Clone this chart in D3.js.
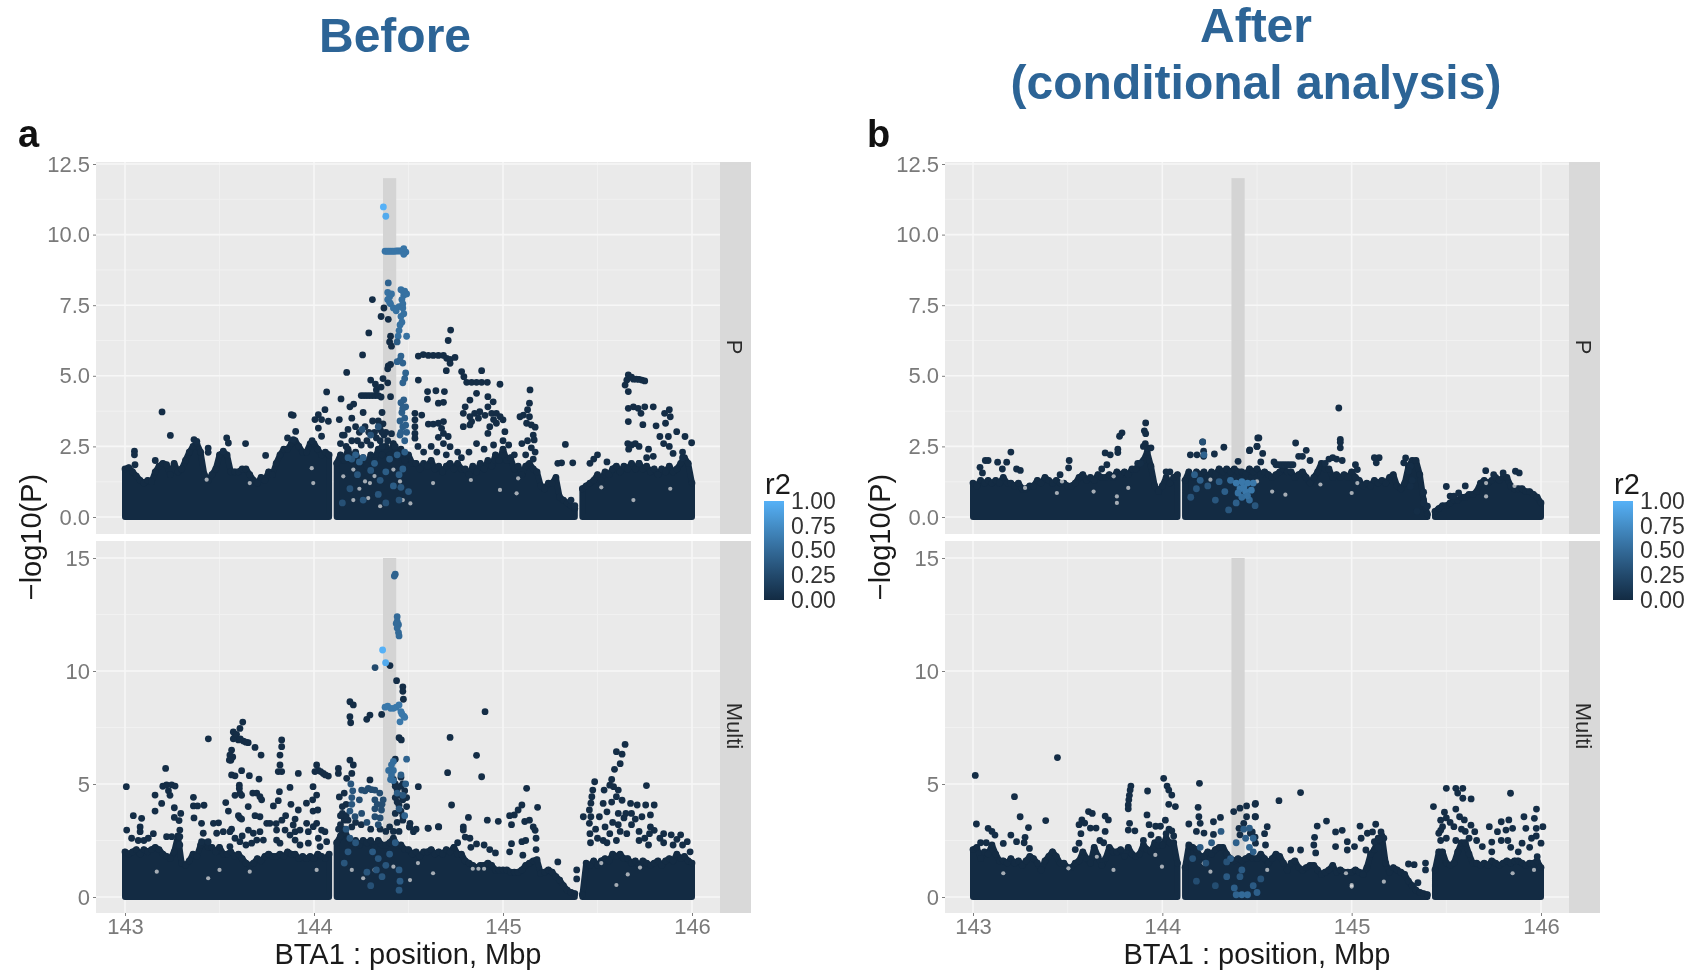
<!DOCTYPE html>
<html><head><meta charset="utf-8">
<script src="https://cdn.jsdelivr.net/npm/d3@7"></script>
<style>
html,body{margin:0;padding:0;background:#fff;overflow:hidden}
svg{display:block;font-family:"Liberation Sans",Arial,sans-serif;filter:blur(0.65px)}
</style></head><body>
<svg id="c" width="1694" height="972"></svg>
<script>
// x position of the first envelope value and spacing between values, Mbp
const binStart = 143, binStep = 0.02;
const xTicks = [143,144,145,146];
const xMinor = [143.5,144.5,145.5];
const yTicksTop = [0,2.5,5,7.5,10,12.5];
const yMinorTop = [1.25,3.75,6.25,8.75,11.25];
const yTicksBottom = [0,5,10,15];
const yMinorBottom = [2.5,7.5,12.5];
const legendTicks = [0,0.25,0.5,0.75,1];
const regionBand = [144.365,144.435];

// Upper edge of the solid mass of SNPs in each facet
const aTopEnvelope = [
1.7,1.75,1.6,1.45,1.3,1.2,1.3,1.25,1.6,1.8,
1.9,1.85,1.5,1.9,1.6,1.7,2.0,2.3,2.5,2.6,
2.3,1.5,1.3,1.5,1.7,2.2,2.3,2.2,1.6,1.6,
1.6,1.7,1.7,1.5,1.3,1.2,1.4,1.3,1.6,1.5,
1.9,2.2,2.4,2.4,2.6,2.7,2.5,2.3,2.3,2.6,
2.6,2.4,2.2,2.3,2.2,0,1.9,2.2,2.0,2.4,
2.0,2.3,1.9,2.1,1.8,2.2,2.0,2.4,2.2,2.5,
2.2,2.6,2.1,2.4,2.0,2.2,1.9,1.9,1.7,1.9,
1.8,2.0,1.7,1.8,1.6,1.8,1.9,1.7,1.9,1.7,
1.7,1.5,1.8,1.6,1.9,1.7,2.0,1.8,2.2,2.0,
2.4,2.0,2.1,1.7,1.8,1.5,1.8,1.9,1.7,1.6,
1.1,1.0,1.2,1.2,1.4,0.7,0.6,0.5,0.4,0.3,
0,1.0,1.1,1.2,1.3,1.5,1.3,1.6,1.5,1.7,
1.8,1.6,1.8,1.7,1.9,1.7,1.9,1.7,1.8,1.6,
1.7,1.5,1.7,1.6,1.8,1.6,1.7,1.9,2.1,1.9,
1.2];
const aBottomEnvelope = [
2.0,1.9,2.0,2.1,1.9,2.1,2.0,2.1,2.2,2.1,
1.9,1.8,1.7,2.0,2.7,1.5,1.4,1.6,1.9,1.8,
2.3,2.4,2.2,2.2,2.0,2.2,1.9,1.9,2.0,1.8,
1.9,1.7,1.5,1.4,1.5,1.7,1.6,1.8,1.9,1.8,
1.8,1.9,1.8,2.0,1.9,1.9,1.7,1.8,1.7,1.8,
1.7,1.9,1.8,1.7,1.9,0,2.4,2.7,3.0,2.6,
2.4,2.5,2.3,2.5,2.4,2.5,2.2,2.5,2.3,2.3,
2.4,2.6,2.3,2.3,2.1,2.1,1.9,2.0,1.8,2.0,
2.0,2.1,1.9,2.0,1.9,2.1,2.0,2.2,1.9,1.9,
1.6,1.5,1.4,1.3,1.4,1.4,1.5,1.4,1.2,1.2,
1.2,1.2,1.1,1.1,1.1,1.2,1.4,1.5,1.6,1.65,
1.05,1.1,1.2,1.1,0.9,0.75,0.5,0.3,0.2,0.15,
0,0.1,1.5,1.4,1.6,1.4,1.6,1.7,1.6,1.9,
1.8,1.9,1.7,1.7,1.5,1.6,1.4,1.6,1.5,1.4,
1.5,1.6,1.4,1.6,1.7,1.6,1.9,1.7,1.8,1.6,
1.5];
const bTopEnvelope = [
1.2,1.1,1.3,1.2,1.3,1.2,1.3,1.2,1.4,1.2,
1.2,1.1,1.2,1.0,1.0,1.1,1.1,1.3,1.2,1.4,
1.3,1.2,1.3,1.2,1.2,1.1,1.1,1.2,1.4,1.5,
1.3,1.4,1.3,1.5,1.4,1.4,1.5,1.4,1.6,1.5,
1.6,1.5,1.7,1.7,1.9,2.0,2.3,1.8,1.1,0.9,
1.1,1.4,1.2,1.4,1.5,0,1.3,1.6,1.4,1.6,
1.5,1.6,1.4,1.6,1.5,1.7,1.6,1.7,1.6,1.7,
1.6,1.6,1.5,1.7,1.6,1.7,1.5,1.6,1.5,1.4,
1.5,1.6,1.7,1.6,1.6,1.4,1.5,1.6,1.4,1.2,
1.4,1.6,1.9,1.7,1.7,1.4,1.5,1.4,1.5,1.4,
1.6,1.4,1.3,1.1,1.2,1.1,1.3,1.2,1.3,1.2,
1.4,1.5,1.1,1.0,1.2,1.8,2.0,2.0,1.5,0.6,
0.1,0,0.2,0.3,0.4,0.4,0.5,0.6,0.6,0.7,
0.7,0.8,0.8,0.9,1.2,1.3,1.2,1.3,1.4,1.3,
1.4,1.4,1.1,1.0,1.0,1.0,0.9,0.9,0.8,0.7,
0.5];
const bBottomEnvelope = [
2.1,2.2,1.7,2.0,1.9,2.3,1.9,1.6,1.6,1.5,
1.7,1.5,1.6,1.4,1.6,1.8,1.7,1.5,1.2,1.6,
1.8,2.0,1.8,1.5,1.5,1.3,1.3,1.5,1.6,2.0,
1.7,1.5,2.2,1.8,1.4,1.7,2.2,2.0,2.0,2.1,
1.8,2.2,1.9,1.8,1.9,2.3,2.1,2.0,2.4,2.3,
2.3,2.6,2.4,2.4,1.5,0,1.3,2.3,2.2,2.1,
1.8,1.8,2.0,1.9,2.1,2.2,2.2,1.9,1.7,1.6,
1.7,1.6,1.7,1.8,1.7,1.7,1.9,1.7,1.5,1.7,
1.9,1.8,1.5,1.2,1.5,1.6,1.3,1.2,1.3,1.4,
1.4,1.2,1.0,1.1,1.2,1.4,1.1,1.2,1.1,1.1,
1.1,1.2,1.1,1.0,1.3,1.9,2.1,2.6,2.7,1.5,
1.1,1.3,1.2,1.1,1.0,0.7,0.5,0.3,0.2,0.15,
0.1,0,1.2,2.0,2.0,1.5,1.4,1.5,2.0,2.4,
2.4,1.9,1.5,1.5,1.4,1.5,1.4,1.6,1.5,1.4,
1.5,1.6,1.5,1.6,1.6,1.5,1.4,1.5,1.5,1.6,
1.3];

// Individually visible SNPs: position Mbp, -log10(P)
const aTopDark = [
[143.196,3.72],[143.24,2.89],[143.05,2.33],[143.05,2.2],[143.053,1.85],[143.16,2.0],[143.365,2.74],[143.38,2.68],[143.44,2.44],[143.44,2.29],[143.538,2.8],[143.547,2.62],[143.52,2.33],[143.638,2.6],[143.744,2.18],[143.86,2.8],[143.88,3.62],[143.89,3.6],[143.903,3.03],[143.89,2.74],[143.99,2.7],[144.005,3.45],[144.023,3.62],[144.058,3.8],[144.067,4.43],[144.04,3.45],[144.076,3.39],[144.023,3.15],[144.04,2.86],[144.134,3.45],[144.143,4.18],[144.173,5.12],[144.257,5.74],[144.29,6.52],[144.309,7.7],[144.355,7.1],[144.37,7.4],[144.393,7.0],
[144.14,2.6],[144.16,2.9],[144.18,3.1],[144.19,3.9],[144.2,3.5],[144.21,4.0],[144.22,3.2],[144.24,3.0],[144.26,3.7],[144.27,3.2],[144.29,3.0],[144.31,3.4],[144.32,3.0],[144.34,3.4],[144.35,3.1],[144.36,3.7],[144.365,3.3],[144.37,2.9],[144.38,3.0],[144.35,2.7],
[144.15,2.9],[144.17,2.5],[144.2,2.7],[144.23,2.7],[144.25,2.55],[144.28,2.7],[144.3,2.55],[144.33,2.8],[144.36,3.0],[144.36,2.5],[144.39,2.7],[144.41,2.95],[144.43,2.5],
[144.25,4.3],[144.265,4.3],[144.28,4.3],[144.295,4.3],[144.31,4.3],[144.325,4.3],[144.34,4.3],[144.355,4.25],[144.3,4.85],[144.325,4.7],[144.33,4.5],[144.365,4.9],[144.355,4.6],[144.405,4.26],[144.39,4.75],[144.405,5.4],[144.393,5.35],[144.39,5.25],[144.41,6.05],[144.4,6.2],[144.405,6.4],
[144.552,5.7],[144.578,5.75],[144.605,5.72],[144.631,5.72],[144.658,5.72],[144.685,5.72],[144.702,5.62],[144.72,5.58],[144.746,5.65],[144.72,5.44],[144.70,5.18],[144.71,6.25],[144.723,6.62],[144.552,4.85],[144.781,5.15],[144.793,4.97],[144.887,5.18],[144.808,4.77],[144.834,4.77],[144.86,4.77],[144.887,4.77],[144.917,4.77],[144.984,4.7],[145.143,4.5],
[144.601,4.44],[144.645,4.47],[144.69,4.44],[144.60,4.17],[144.658,4.03],[144.685,4.06],[144.534,3.67],[144.57,3.61],[144.534,3.44],[144.534,3.2],[144.534,2.96],[144.534,2.79],
[144.605,3.29],[144.631,3.29],[144.658,3.32],[144.685,3.38],[144.675,3.14],[144.685,2.96],[144.658,2.82],[144.71,2.85],[144.685,2.6],[144.72,2.49],[144.55,2.5],[144.58,2.3],[144.62,2.5],[144.65,2.3],[144.7,2.2],[144.76,2.3],[144.78,2.1],
[144.86,4.38],[144.825,4.14],[144.80,3.9],[144.79,3.67],[144.825,3.55],[144.85,3.67],[144.877,3.73],[144.92,4.26],[144.948,4.08],[144.92,3.9],[144.94,3.67],[144.965,3.67],[144.985,3.55],[145.0,3.44],[144.965,3.32],[144.93,3.2],[144.92,2.96],[145.01,3.02],[144.79,3.2],[144.825,3.26],[144.834,3.38],[144.87,3.5],[144.905,3.6],[144.95,3.45],
[145.14,4.03],[145.13,3.8],[145.108,3.61],[145.14,3.55],[145.125,3.32],[145.15,3.26],[145.17,3.18],[145.16,2.9],[145.165,2.73],[145.09,3.55],[145.13,2.7],[145.1,2.6],[145.15,2.45],[145.17,2.3],[144.9,2.4],[144.86,2.6],[144.82,2.3],[144.95,2.55],[145.0,2.7],[145.03,2.55],[145.06,2.2],[145.12,2.2],[145.16,2.05],
[145.33,2.57],[145.29,1.9],[145.31,1.92],[145.369,1.92],[145.36,0.6],[145.38,0.4],
[145.663,5.03],[145.655,4.85],[145.646,4.67],[145.663,4.44],[145.68,4.95],[145.69,4.88],[145.705,4.88],[145.72,4.87],[145.735,4.85],[145.75,4.82],
[145.663,3.85],[145.69,3.9],[145.715,3.85],[145.73,3.67],[145.75,3.9],[145.795,3.9],[145.855,3.67],[145.88,3.8],[145.885,3.55],[145.86,3.32],[145.663,3.38],[145.74,3.27],[145.81,3.23],[145.919,3.02],[145.963,2.85],[145.998,2.63],[145.83,2.85],[145.875,2.85],[145.85,2.6],[145.88,2.5],[145.9,2.25],[145.66,2.6],[145.68,2.55],[145.7,2.6],[145.72,2.5],[145.665,2.4],[145.77,2.4],[145.795,2.15],[145.76,2.1],[145.72,1.9],[145.5,2.2],[145.55,1.95],[145.46,1.9],[145.48,2.05],[145.95,2.3],[145.95,2.1]
];
const aTopTinted = [
[144.367,10.98,1],[144.38,10.65,0.95],
[144.376,9.41,0.58],[144.386,9.41,0.58],[144.396,9.41,0.58],[144.406,9.41,0.58],[144.416,9.41,0.58],[144.426,9.41,0.58],[144.436,9.42,0.58],[144.446,9.42,0.58],[144.456,9.42,0.58],[144.466,9.42,0.58],[144.476,9.42,0.58],[144.486,9.38,0.58],[144.475,9.5,0.58],[144.475,9.3,0.58],
[144.393,8.29,0.45],[144.39,7.95,0.55],[144.4,7.8,0.55],[144.39,7.7,0.55],[144.405,7.55,0.55],[144.42,7.4,0.55],[144.435,7.3,0.55],[144.45,7.45,0.55],[144.475,7.85,0.55],[144.48,8.0,0.55],[144.49,7.9,0.55],[144.46,8.05,0.55],[144.465,7.7,0.55],[144.47,7.4,0.55],[144.46,7.1,0.55],[144.465,6.9,0.55],[144.45,6.6,0.55],[144.445,6.4,0.55],[144.49,6.4,0.55],[144.44,6.2,0.4],
[144.4,7.6,0.55],[144.41,7.9,0.55],[144.47,7.55,0.55],[144.475,7.2,0.55],[144.455,6.8,0.55],[144.47,8.0,0.55],
[144.46,5.7,0.45],[144.44,5.5,0.45],[144.47,5.45,0.45],[144.455,5.55,0.45],[144.485,5.1,0.45],[144.48,4.9,0.45],[144.47,4.75,0.45],[144.475,4.15,0.42],[144.46,4.05,0.42],[144.485,3.9,0.42],[144.465,3.7,0.42],[144.48,3.5,0.42],[144.47,3.2,0.42],[144.49,3.0,0.42],[144.455,2.9,0.42],[144.48,2.7,0.42],[144.47,3.85,0.42],[144.455,3.4,0.42],[144.485,3.25,0.42],[144.46,3.0,0.42],
[144.34,3.2,0.32],[144.3,2.9,0.32],[144.255,3.1,0.32],[144.22,2.2,0.42],[144.2,2.05,0.35],[144.18,2.1,0.4],[144.26,2.1,0.4],[144.32,1.9,0.4],[144.38,1.6,0.4],[144.44,2.2,0.4],[144.47,1.7,0.4],[144.42,1.1,0.4],[144.34,0.8,0.35],[144.26,0.6,0.35],[144.15,0.5,0.3],[144.5,0.9,0.35],[144.23,1.5,0.35],[144.45,0.6,0.3],[144.45,1.5,0.4],[144.48,2.3,0.4],[144.24,1.95,0.4],[144.3,1.65,0.35],[144.4,2.05,0.35],[144.35,1.3,0.35],[144.19,1.0,0.3],[144.46,1.05,0.35],[144.38,0.5,0.3]
];
const aBottomDark = [
[143.007,4.88],[143.009,2.96],[143.044,3.6],[143.088,3.48],[143.08,3.1],[143.159,4.51],[143.215,5.69],[143.194,4.14],[143.159,3.8],[143.2,4.9],[143.22,4.96],[143.247,4.96],[143.265,4.91],[143.23,4.7],[143.238,4.5],[143.261,3.95],[143.261,3.52],[143.295,3.7],[143.286,3.38],[143.362,4.41],[143.362,4.03],[143.384,4.03],[143.418,4.06],[143.365,3.5],[143.405,3.26],[143.441,7.0],[143.468,3.26],[143.495,3.28],
[143.035,2.6],[143.07,2.5],[143.1,2.5],[143.123,2.6],[143.15,2.8],[143.08,2.89],[143.22,2.67],[143.247,2.67],[143.29,2.96],[143.29,2.67],[143.29,2.3],[143.414,2.82],[143.405,2.45],[143.44,2.45],[143.485,2.82],[143.52,2.89],[143.555,2.89],[143.582,2.6],[143.608,2.45],[143.555,2.23],
[143.653,2.96],[143.679,2.82],[143.714,2.89],[143.697,2.52],[143.75,3.26],[143.767,3.26],[143.67,2.38],[143.732,2.52],[143.802,2.52],[143.82,2.38],[143.847,2.96],[143.873,2.74],[143.9,2.89],[143.926,2.96],[143.9,2.52],[143.926,2.3],[143.961,3.26],[143.97,2.89],[143.97,2.38],[144.014,3.26],[144.04,2.96],[144.023,2.6],[144.058,2.89],[144.067,2.45],[144.032,2.23],[143.89,3.19],[143.996,3.11],[143.802,2.96],[143.8,3.25],[143.83,3.4],[143.85,3.6],[143.9,3.45],[143.62,2.7],[143.64,2.3],
[144.526,2.89],[144.605,3.04],[144.658,3.11],[144.508,3.26],
[143.623,7.74],[143.608,7.46],[143.573,7.3],[143.582,7.1],[143.6,6.95],[143.626,6.9],[143.652,6.83],[143.573,7.0],[143.59,7.2],[143.61,7.0],[143.64,6.85],[143.688,6.62],[143.72,6.28],[143.564,6.5],[143.555,6.28],[143.57,6.2],[143.56,6.05],[143.552,6.06],[143.564,5.4],[143.582,5.36],[143.617,5.59],[143.658,5.37],[143.709,5.22],[143.605,4.95],[143.605,4.8],[143.608,4.6],[143.582,4.5],[143.617,4.5],[143.676,4.6],[143.697,4.6],[143.714,4.44],[143.723,4.3],[143.533,4.18],[143.547,3.8],[143.652,4.0],[143.564,3.0],[143.6,3.6],[143.608,3.5],[143.617,3.45],[143.688,3.6],[143.714,3.55],
[143.829,6.95],[143.829,6.65],[143.82,6.28],[143.82,5.84],[143.811,5.55],[143.829,5.55],[143.817,4.66],[143.811,4.26],[143.785,4.03],[143.873,4.85],[143.878,4.1],[143.917,5.47],[143.917,3.85],
[144.014,5.84],[144.005,5.55],[144.049,5.47],[144.076,5.35],[144.023,5.6],[144.06,5.4],[144.035,5.55],[143.995,4.88],[144.014,4.51],[143.993,4.3],[143.96,4.15],[143.995,3.8],[144.02,3.85],
[144.129,5.69],[144.129,5.47],[144.134,4.43],[144.19,6.06],[144.208,5.84],[144.173,5.25],[144.2,5.47],[144.19,8.64],[144.208,8.5],[144.19,7.98],[144.194,7.71],[144.279,7.86],[144.296,8.05],[144.358,8.08],[144.402,10.24],[144.437,9.57],[144.47,9.3],[144.47,9.1],[144.473,8.75],[144.45,7.05],[144.462,6.95],[144.43,6.1],[144.296,5.18],[144.552,4.88],
[144.72,7.06],[144.707,5.5],[144.728,4.07],[144.905,8.2],[144.86,6.27],[144.887,5.32],
[144.42,5.2],[144.46,5.3],[144.43,5.0],[144.47,5.0],[144.44,4.75],[144.48,4.7],[144.43,4.4],[144.47,4.3],[144.45,4.05],[144.49,4.0],[144.43,3.7],[144.47,3.6],[144.44,3.3],[144.4,3.1],[144.42,2.9],[144.16,4.6],[144.17,4.1],[144.15,3.7],[144.18,3.4],[144.14,3.2],[144.2,3.1],[144.45,2.9],[144.505,3.1],[144.54,3.0],
[144.45,4.5],[144.46,4.9],[144.44,4.2],[144.46,3.8],[144.49,4.4],[144.43,4.9],[144.47,3.4],[144.15,4.0],[144.16,3.4],[144.17,3.6],[144.14,3.6],[144.13,3.0],[144.22,3.3],[144.25,3.2],[144.3,3.0],[144.35,3.0],[144.38,2.9],
[144.506,3.1],[144.603,3.05],[144.66,3.1],[144.79,3.1],[144.817,3.52],[144.79,2.96],[144.8,2.65],[144.825,2.6],[144.917,3.4],[144.975,3.35],[144.76,2.4],[144.83,2.2],[144.86,2.35],[144.9,2.3],[144.93,2.1],[144.96,1.95],
[145.125,4.81],[145.183,3.97],[145.1,4.07],[145.08,3.85],[145.06,3.63],[145.035,3.6],[145.045,3.2],[145.115,3.34],[145.14,3.4],[145.16,3.1],[145.17,2.95],[145.1,2.45],[145.12,2.5],[145.045,2.36],[145.035,2.0],[145.175,2.6],[145.175,2.1],[145.105,1.85],[145.29,1.55],[145.39,1.2],[145.39,0.8],[145.425,3.55],
[145.646,6.75],[145.6,6.43],[145.63,6.32],[145.62,5.9],[145.59,5.65],[145.575,5.2],[145.565,4.95],[145.485,5.1],[145.475,4.73],[145.47,4.44],[145.465,4.15],[145.457,3.85],[145.465,3.55],[145.457,3.26],[145.46,2.8],[145.463,2.4],[145.535,4.73],[145.585,4.88],[145.61,4.73],[145.6,4.44],[145.53,4.14],[145.575,4.2],[145.63,4.28],[145.675,4.14],[145.71,4.07],[145.755,4.07],[145.8,4.07],[145.759,4.93],[145.55,3.77],[145.61,3.7],[145.68,3.7],[145.735,3.55],[145.78,3.63],[145.54,3.1],[145.61,3.2],[145.68,3.2],[145.8,2.95],[145.85,2.8],[145.94,2.75],[145.89,2.75],[145.72,2.5],[145.775,2.8],[145.975,2.45],[145.565,2.8],[145.655,2.8],[145.83,2.6],[145.51,3.55],
[145.49,3.0],[145.5,2.6],[145.53,2.5],[145.55,2.4],[145.58,3.3],[145.6,2.5],[145.62,2.9],[145.64,3.5],[145.65,3.7],[145.7,3.45],[145.72,2.9],[145.75,2.6],[145.77,2.3],[145.85,2.4],[145.9,2.3],[145.95,2.3],[145.99,2.0],[145.92,2.55],[145.78,3.1]
];
const aBottomTinted = [
[144.363,10.93,1],[144.379,10.37,0.95],[144.323,10.15,0.25],
[144.43,14.28,0.45],[144.425,14.2,0.45],[144.44,12.4,0.5],[144.44,12.2,0.5],[144.447,12.05,0.5],[144.44,11.9,0.5],[144.447,11.7,0.5],[144.45,11.55,0.5],[144.435,12.1,0.5],
[144.376,8.4,0.6],[144.39,8.45,0.6],[144.405,8.35,0.6],[144.42,8.35,0.6],[144.435,8.4,0.6],[144.45,8.5,0.6],[144.46,8.2,0.6],[144.475,8.0,0.6],[144.455,7.75,0.6],[144.48,7.95,0.6],[144.465,8.1,0.6],
[144.42,6.0,0.52],[144.41,5.85,0.52],[144.42,5.6,0.52],[144.41,5.4,0.52],[144.395,5.6,0.52],[144.42,5.15,0.52],[144.405,5.2,0.52],[144.49,6.1,0.45],[144.46,5.4,0.4],[144.485,5.0,0.4],[144.44,4.6,0.4],[144.48,3.6,0.45],[144.47,4.5,0.35],[144.45,3.9,0.35],
[144.252,4.73,0.28],[144.287,4.8,0.28],[144.322,4.73,0.28],[144.348,4.6,0.28],[144.366,4.3,0.28],[144.357,3.85,0.28],[144.322,3.55,0.28],[144.322,4.3,0.28],[144.322,3.9,0.28],[144.252,3.7,0.28],[144.217,3.55,0.28],[144.28,3.3,0.28],[144.34,3.2,0.28],[144.27,4.7,0.28],[144.305,4.75,0.28],[144.335,4.1,0.28],[144.36,4.1,0.28],[144.24,4.3,0.28],[144.35,3.5,0.28],
[144.195,5.0,0.35],[144.205,4.7,0.35],[144.2,4.4,0.35],[144.2,4.1,0.35],[144.19,3.8,0.35],[144.17,3.0,0.35],[144.19,2.6,0.35],[144.22,2.4,0.35],[144.18,2.0,0.35],[144.16,1.5,0.35],[144.31,2.0,0.38],[144.33,1.2,0.35],[144.36,0.9,0.35],[144.28,1.1,0.35],[144.4,1.9,0.35],[144.43,2.4,0.38],[144.45,1.2,0.38],[144.455,0.7,0.38],[144.3,0.5,0.3],[144.34,1.7,0.35],[144.38,1.4,0.35],[144.45,0.3,0.35]
];
const bTopDark = [
[143.912,3.33],[143.905,3.05],[143.912,2.95],[143.787,2.98],[143.774,2.86],[143.765,2.4],[143.765,2.28],[143.698,2.27],[143.725,2.2],[143.707,1.85],[143.91,2.6],[143.92,2.45],[143.94,2.45],[143.9,2.5],[143.87,1.9],[143.885,1.9],
[143.2,2.3],[143.065,2.0],[143.08,2.0],[143.13,1.94],[143.178,1.94],[143.037,1.76],[143.05,1.56],[143.155,1.7],[143.23,1.7],[143.25,1.65],[143.508,2.0],[143.505,1.74],[143.46,1.5],[143.68,1.7],[144.02,1.6],[144.04,1.6],
[144.148,2.2],[144.183,2.2],[144.213,2.66],[144.218,2.33],[144.218,2.15],[144.275,2.23],[144.325,2.47],[144.4,1.97],[144.462,2.38],[144.504,2.8],[144.5,2.5],
[144.51,2.8],[144.5,2.5],[144.46,2.35],[144.53,2.25],[144.52,1.95],[144.59,1.95],[144.6,1.85],[144.615,1.85],[144.63,1.85],[144.645,1.85],[144.66,1.85],[144.675,1.85],[144.69,1.85],[144.704,2.62],[144.76,2.36],[144.72,2.15],[144.74,2.15],[144.78,2.0],
[144.932,3.86],[144.94,2.75],[144.94,2.65],[144.94,2.45],[144.92,2.05],[144.88,2.05],[144.86,1.9],[144.95,2.0],[144.9,2.1],
[145.145,2.1],[145.12,2.1],[145.13,1.92],[145.02,1.85],[145.03,1.68],[145.285,2.09],[145.275,1.92],[145.31,1.8],[145.3,1.63],[145.32,1.3],[145.31,1.08],[145.38,0.88],[145.38,0.5],[145.4,0.38],[145.345,0.2],
[145.5,1.08],[145.6,1.1],[145.52,0.74],[145.54,0.74],[145.565,0.85],[145.708,1.64],[145.75,1.5],[145.8,1.56],[145.865,1.62],[145.885,1.56]
];
const bTopTinted = [
[144.213,2.66,0.3],[144.22,2.2,0.45],[144.17,1.5,0.42],[144.2,1.3,0.42],[144.36,1.3,0.5],[144.39,1.2,0.6],[144.42,1.25,0.6],[144.45,1.2,0.6],[144.48,1.2,0.6],[144.41,1.0,0.6],[144.44,0.9,0.6],[144.47,0.95,0.6],[144.42,0.7,0.52],[144.46,0.6,0.5],[144.39,0.5,0.42],[144.33,0.9,0.42],[144.28,0.6,0.35],[144.24,1.1,0.35],[144.15,0.7,0.32],[144.49,0.4,0.35],[144.35,0.25,0.35],[144.18,1.0,0.35],[144.3,1.25,0.38],[144.4,0.85,0.55],[144.43,1.05,0.6],[144.45,0.75,0.55]
];
const bBottomDark = [
[143.012,5.38],[143.446,6.17],[143.219,4.44],[143.018,3.23],[143.249,3.55],[143.384,3.38],[143.293,3.07],[143.08,3.04],[143.1,2.9],[143.116,2.74],[143.2,2.74],[143.275,2.64],[143.16,2.37],[143.23,2.45],[143.27,2.4],[143.298,2.15],[143.04,2.4],[143.07,2.4],
[143.834,4.91],[143.83,4.73],[143.826,4.5],[143.823,4.3],[143.82,4.07],[143.82,3.9],[143.922,4.69],[144.007,5.25],[144.025,4.91],[144.034,4.73],[144.05,4.51],[144.034,4.1],[144.069,4.0],[143.919,3.63],[143.827,3.26],[143.82,2.96],[143.855,2.93],[143.93,3.2],[143.965,3.13],[143.99,3.13],[144.016,3.4],[144.035,3.0],[144.05,2.93],
[143.61,3.78],[143.63,3.7],[143.575,3.41],[143.56,3.2],[143.59,3.27],[143.62,3.05],[143.65,3.05],[143.698,3.58],[143.715,3.41],[143.698,2.9],[143.57,2.8],[143.56,2.38],[143.54,2.1],[143.67,2.5],[143.69,2.4],[143.94,2.75],[143.98,2.55],[144.02,2.8],[144.06,2.7],[143.9,2.5],
[144.196,5.03],[144.189,3.97],[144.193,3.55],[144.2,3.26],[144.14,3.23],[144.307,3.52],[144.27,3.33],[144.18,2.9],[144.22,2.83],[144.27,2.77],[144.377,3.78],[144.41,3.93],[144.445,4.03],[144.49,4.1],[144.445,3.55],[144.43,3.26],[144.405,3.04],[144.41,2.75],[144.465,2.82],[144.49,2.65],[144.49,3.55],
[144.73,4.62],[144.616,4.26],[144.492,4.14],[144.492,3.55],[144.554,3.11],[144.54,2.8],[144.475,2.88],[144.492,2.38],[144.545,2.3],[144.678,2.08],[144.73,2.08],[144.867,3.36],[144.818,3.14],[144.804,2.64],[144.915,2.88],[144.95,2.95],[144.8,2.3],[144.81,1.95],[144.915,2.23],[144.977,2.45],[144.977,2.08],
[145.044,3.14],[145.127,3.22],[145.083,2.82],[145.11,2.88],[145.155,2.88],[145.05,2.6],[145.015,2.23],[145.075,2.08],[145.17,2.6],[145.3,1.46],[145.33,1.43],[145.39,1.5],[145.39,1.2],[145.35,0.63],
[145.432,4.0],[145.5,4.81],[145.55,4.81],[145.587,4.81],[145.56,4.6],[145.587,4.37],[145.631,4.34],[145.839,4.59],[145.976,3.89],[145.55,3.89],[145.49,3.75],[145.47,3.4],[145.48,3.11],[145.57,3.55],[145.595,3.41],[145.54,3.11],[145.63,3.18],[145.65,2.89],[145.46,2.82],[145.47,2.5],[145.727,3.11],[145.79,3.33],[145.83,3.41],[145.77,2.89],[145.815,2.96],[145.85,3.04],[145.91,3.55],[145.965,3.48],[146.01,3.11],[145.975,3.04],[145.92,3.04],[145.975,2.7],[145.79,2.5],[145.825,2.5],[145.74,2.43],[145.69,2.23],[145.74,2.0],[145.9,2.38],[146.0,2.38],[145.88,2.0],[145.98,1.78],
[145.5,3.5],[145.52,3.3],[145.47,2.95],[145.6,2.9],[145.62,2.6],[145.58,3.0],[145.5,2.6],[145.55,2.5],[145.66,2.5],[145.84,2.2],[145.95,2.6],[145.94,2.2],[145.12,2.45],[145.14,2.2],[145.145,2.55]
];
const bBottomTinted = [
[144.31,2.9,0.38],[144.26,2.4,0.38],[144.2,2.2,0.38],[144.16,1.7,0.32],[144.23,1.5,0.32],[144.36,1.7,0.38],[144.39,2.4,0.42],[144.44,2.6,0.42],[144.46,2.2,0.48],[144.48,2.0,0.42],[144.42,1.2,0.38],[144.34,0.9,0.38],[144.38,0.4,0.42],[144.42,0.1,0.5],[144.45,0.1,0.5],[144.39,0.1,0.45],[144.48,0.5,0.38],[144.52,0.8,0.32],[144.5,0.2,0.42],[144.28,0.5,0.28],[144.18,0.7,0.28],[144.43,3.0,0.4],[144.46,3.05,0.4],[144.48,2.6,0.45],[144.41,0.9,0.35],[144.34,1.55,0.32]
];

// Small empty spots left between points inside the mass
const aTopGaps = [[144.27,1.26],[144.296,1.2],[143.988,1.73],[143.996,1.2],[144.287,0.67],[144.455,1.26],[144.47,0.6],[144.35,0.38],[144.208,0.6],[144.208,1.68],[144.42,1.68],[144.155,1.44],[143.432,1.32],[143.66,1.2],[144.51,0.48],[145.08,1.37],[144.984,0.96],[145.69,0.6],[145.885,1.0],[144.83,1.31],[144.63,1.2],[145.072,0.84],[145.52,1.05],[144.32,1.45],[144.24,1.0]];
const aBottomGaps = [[143.66,1.12],[143.168,1.12],[143.5,1.2],[143.44,0.83],[144.26,0.83],[144.4,1.86],[144.42,1.34],[144.014,1.2],[144.508,0.75],[144.63,1.05],[144.32,1.2],[143.644,1.86],[144.84,1.25],[144.87,1.25],[144.9,1.25],[145.6,0.53],[145.52,1.5],[145.725,1.3],[145.66,1.0],[144.2,1.2],[144.55,1.5]];
const bTopGaps = [[143.76,0.5],[143.76,0.73],[143.443,0.85],[143.275,1.03],[143.47,1.26],[144.254,1.32],[143.743,1.44],[143.82,1.03],[143.637,0.9],[144.5,1.26],[144.58,0.9],[144.65,0.79],[144.835,1.15],[145.0,0.85],[145.03,1.2],[145.71,0.73],[145.71,1.2],[145.86,1.1]];
const bBottomGaps = [[143.504,1.27],[143.16,1.05],[143.654,1.78],[143.742,1.2],[143.963,1.86],[144.219,1.49],[144.254,1.12],[143.998,1.34],[145.0,0.53],[144.554,1.2],[145.17,0.68],[144.97,1.05],[145.85,1.05],[145.963,1.2],[145.0,0.46]];

const lowColour = "#132B43", highColour = "#56B1F7";
const r2Colour = d3.scaleLinear().domain([0,1]).range([lowColour,highColour]).interpolate(d3.interpolateLab);
const darkR2 = 0.02;
const dotR = 3.4;

const svg = d3.select("#c");
const defs = svg.append("defs");
const grad = defs.append("linearGradient").attr("id","r2grad").attr("x1",0).attr("x2",0).attr("y1",1).attr("y2",0);
legendTicks.forEach(t=>grad.append("stop").attr("offset",t).attr("stop-color",r2Colour(t)));

const upperFacet = {panelTop:162,panelBottom:534,y0:517,yMax:164,domainMax:12.5,ticks:yTicksTop,minor:yMinorTop,fmt:d3.format(".1f"),bandTop:12,label:"P"};
const lowerFacet = {panelTop:541,panelBottom:913,y0:897,yMax:558,domainMax:15,ticks:yTicksBottom,minor:yMinorBottom,fmt:d3.format("d"),bandTop:15,label:"Multi"};

function facet(g,xScale,panelL,panelR,stripR,cfg,env,dark,tinted,gaps){
  const y = d3.scaleLinear().domain([0,cfg.domainMax]).range([cfg.y0,cfg.yMax]);
  g.append("rect").attr("x",panelL).attr("y",cfg.panelTop).attr("width",panelR-panelL).attr("height",cfg.panelBottom-cfg.panelTop).attr("fill","#eaeaea");
  g.selectAll(null).data(cfg.minor).join("line").attr("x1",panelL).attr("x2",panelR).attr("y1",d=>y(d)).attr("y2",d=>y(d)).attr("stroke","#f1f1f1").attr("stroke-width",1);
  g.selectAll(null).data(xMinor).join("line").attr("x1",d=>xScale(d)).attr("x2",d=>xScale(d)).attr("y1",cfg.panelTop).attr("y2",cfg.panelBottom).attr("stroke","#f1f1f1").attr("stroke-width",1);
  g.selectAll(null).data(cfg.ticks).join("line").attr("x1",panelL).attr("x2",panelR).attr("y1",d=>y(d)).attr("y2",d=>y(d)).attr("stroke","#f7f7f7").attr("stroke-width",1.6);
  g.selectAll(null).data(xTicks).join("line").attr("x1",d=>xScale(d)).attr("x2",d=>xScale(d)).attr("y1",cfg.panelTop).attr("y2",cfg.panelBottom).attr("stroke","#f7f7f7").attr("stroke-width",1.6);
  // highlighted region
  g.append("rect").attr("x",xScale(regionBand[0])).attr("width",xScale(regionBand[1])-xScale(regionBand[0]))
    .attr("y",y(cfg.bandTop)).attr("height",y(0)-y(cfg.bandTop)).attr("fill","#d4d4d4");
  // solid mass of overlapping SNPs
  const rows = env.map((v,i)=>({x:binStart+i*binStep,v}));
  const area = d3.area().defined(d=>d.v>0).x(d=>xScale(d.x)).y0(y(0)).y1(d=>y(d.v)).curve(d3.curveLinear);
  g.append("path").attr("d",area(rows)).attr("fill",lowColour).attr("stroke",lowColour).attr("stroke-width",6).attr("stroke-linejoin","round");
  g.selectAll(null).data(rows.filter(d=>d.v>0)).join("circle").attr("cx",d=>xScale(d.x)).attr("cy",d=>y(d.v)).attr("r",dotR).attr("fill",lowColour);
  // gaps between points in the mass
  g.selectAll(null).data(gaps).join("circle").attr("cx",d=>xScale(d[0])).attr("cy",d=>y(d[1])).attr("r",2.1).attr("fill","#e6e6e6").attr("opacity",0.7);
  // individual SNPs
  g.selectAll(null).data(dark).join("circle").attr("cx",d=>xScale(d[0])).attr("cy",d=>y(d[1])).attr("r",dotR).attr("fill",r2Colour(darkR2));
  g.selectAll(null).data(tinted).join("circle").attr("cx",d=>xScale(d[0])).attr("cy",d=>y(d[1])).attr("r",dotR).attr("fill",d=>r2Colour(d[2]));
  // y axis
  const ax = g.append("g").attr("transform",`translate(${panelL},0)`).call(d3.axisLeft(y).tickValues(cfg.ticks).tickFormat(cfg.fmt).tickSize(3).tickPadding(3));
  ax.select(".domain").remove();
  ax.selectAll("line").attr("stroke","#7f7f7f");
  ax.selectAll("text").attr("fill","#7a7a7a").style("font-size","22px").style("font-family","inherit");
  // strip
  g.append("rect").attr("x",panelR).attr("y",cfg.panelTop).attr("width",stripR-panelR).attr("height",cfg.panelBottom-cfg.panelTop).attr("fill","#d9d9d9");
  g.append("text").attr("transform",`translate(${panelR+15},${(cfg.panelTop+cfg.panelBottom)/2-1}) rotate(90)`)
    .attr("text-anchor","middle").attr("dy","0.36em").attr("fill","#2a2a2a").style("font-size","22px").text(cfg.label);
}

function figure(offset,xRange,letter,envs,pts,gaps){
  const g = svg.append("g");
  const x = d3.scaleLinear().domain([143,146]).range(xRange);
  const L = 96+offset, R = 720+offset, S = 751+offset;
  facet(g,x,L,R,S,upperFacet,envs[0],pts[0],pts[1],gaps[0]);
  facet(g,x,L,R,S,lowerFacet,envs[1],pts[2],pts[3],gaps[1]);
  const ax = g.append("g").attr("transform",`translate(0,${lowerFacet.panelBottom})`).call(d3.axisBottom(x).tickValues(xTicks).tickFormat(d3.format("d")).tickSize(3).tickPadding(2));
  ax.select(".domain").remove();
  ax.selectAll("line").attr("stroke","#7f7f7f");
  ax.selectAll("text").attr("fill","#7a7a7a").style("font-size","22px").style("font-family","inherit");
  g.append("text").attr("x",408+offset).attr("y",964).attr("text-anchor","middle").attr("fill","#1a1a1a").style("font-size","29px").text("BTA1 : position, Mbp");
  g.append("text").attr("transform",`translate(${41+offset},537) rotate(-90)`).attr("text-anchor","middle").attr("fill","#1a1a1a").style("font-size","29px").text("\u2212log10(P)");
  g.append("text").attr("x",18+offset).attr("y",147).attr("fill","#111").style("font-size","38px").style("font-weight","700").text(letter);
  // legend
  const lx = 764+offset;
  const ly = d3.scaleLinear().domain([0,1]).range([600,501]);
  g.append("rect").attr("x",lx).attr("y",ly(1)).attr("width",20).attr("height",ly(0)-ly(1)).attr("fill","url(#r2grad)");
  g.append("text").attr("x",lx+1).attr("y",494).attr("fill","#1a1a1a").style("font-size","29px").text("r2");
  const la = g.append("g").attr("transform",`translate(${lx+20},0)`).call(d3.axisRight(ly).tickValues(legendTicks).tickFormat(d3.format(".2f")).tickSize(0).tickPadding(7));
  la.select(".domain").remove();
  la.selectAll("text").attr("fill","#333").style("font-size","23px").style("font-family","inherit");
}

figure(0,[125,692],"a",[aTopEnvelope,aBottomEnvelope],[aTopDark,aTopTinted,aBottomDark,aBottomTinted],[aTopGaps,aBottomGaps]);
figure(849,[973,1541],"b",[bTopEnvelope,bBottomEnvelope],[bTopDark,bTopTinted,bBottomDark,bBottomTinted],[bTopGaps,bBottomGaps]);

const titleColour = "#2c6496";
const titles = [["Before",395,52],["After",1256,42],["(conditional analysis)",1256,99]];
svg.selectAll(null).data(titles).join("text").attr("x",d=>d[1]).attr("y",d=>d[2]).attr("text-anchor","middle")
  .attr("fill",titleColour).style("font-size","48px").style("font-weight","700").text(d=>d[0]);
</script>
</body></html>
